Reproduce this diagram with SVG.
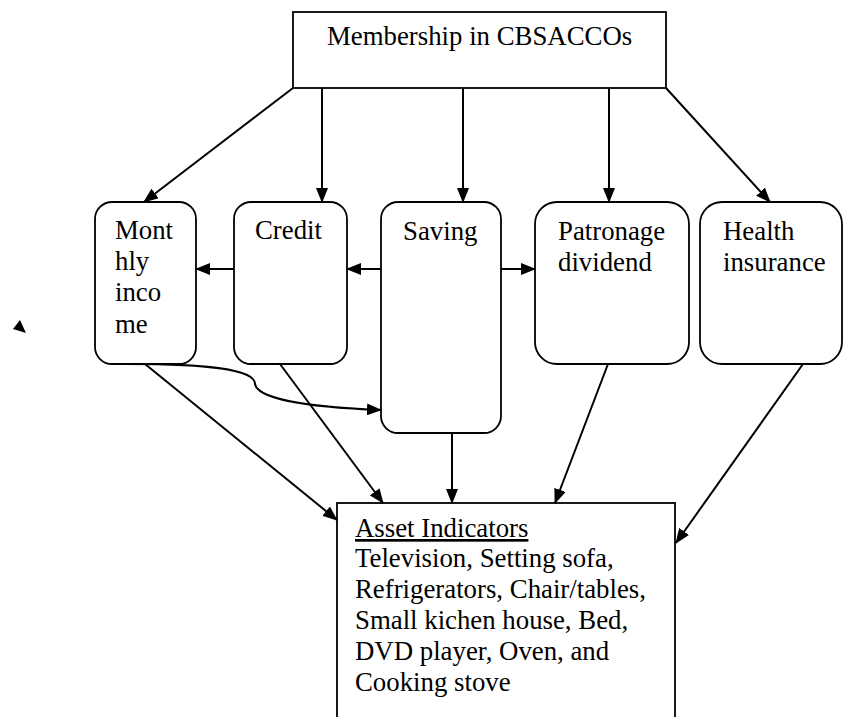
<svg xmlns="http://www.w3.org/2000/svg" width="843" height="717" viewBox="0 0 843 717">
<style>
.box{fill:#fff;stroke:#000;stroke-width:1.8}
.t{font-family:"Liberation Serif","Times New Roman",serif;font-size:26.8px;fill:#000}
.c{fill:none;stroke:#000;stroke-width:2}
</style>
<defs>
<marker id="ah" markerUnits="userSpaceOnUse" markerWidth="15" markerHeight="12" refX="14" refY="6" orient="auto">
<path d="M0,0 L15,6 L0,12 Z" fill="#000"/>
</marker>
</defs>
<rect width="843" height="717" fill="#fff"/>
<g id="membership"><rect class="box" x="293" y="12" width="373" height="76"/><text class="t" x="327" y="45">Membership in CBSACCOs</text></g>
<g id="monthly"><rect class="box" x="95" y="202" width="101" height="162" rx="17"/><text class="t" x="115" y="239">Mont</text><text class="t" x="115" y="270">hly</text><text class="t" x="115" y="301">inco</text><text class="t" x="115" y="333">me</text></g>
<g id="credit"><rect class="box" x="234" y="202" width="113" height="162" rx="17"/><text class="t" x="255" y="239">Credit</text></g>
<g id="saving"><rect class="box" x="381" y="202" width="120" height="231" rx="17"/><text class="t" x="403" y="240">Saving</text></g>
<g id="patronage"><rect class="box" x="535" y="202" width="154" height="162" rx="22"/><text class="t" x="558" y="240">Patronage</text><text class="t" x="558" y="271">dividend</text></g>
<g id="health"><rect class="box" x="700" y="202" width="142" height="162" rx="22"/><text class="t" x="723" y="240">Health</text><text class="t" x="723" y="271">insurance</text></g>
<g id="assets"><rect class="box" x="337" y="503" width="338" height="230"/><text class="t" x="355" y="537" text-decoration="underline">Asset Indicators</text><text class="t" x="355" y="567">Television, Setting sofa,</text><text class="t" x="355" y="598">Refrigerators, Chair/tables,</text><text class="t" x="355" y="629">Small kichen house, Bed,</text><text class="t" x="355" y="660">DVD player, Oven, and</text><text class="t" x="355" y="691">Cooking stove</text></g>
<g id="connectors">
<path class="c" d="M293,88 L144,202" marker-end="url(#ah)"/>
<path class="c" d="M322,88 L322,202" marker-end="url(#ah)"/>
<path class="c" d="M463,88 L463,202" marker-end="url(#ah)"/>
<path class="c" d="M609,88 L609,202" marker-end="url(#ah)"/>
<path class="c" d="M666,88 L770,202" marker-end="url(#ah)"/>
<path class="c" d="M234,269 L196,269" marker-end="url(#ah)"/>
<path class="c" d="M381,269 L347,269" marker-end="url(#ah)"/>
<path class="c" d="M501,269 L535,269" marker-end="url(#ah)"/>
<path class="c" d="M128,364 C200,364 255,368 255,384 C258,402 330,408 381,410" marker-end="url(#ah)"/>
<path class="c" d="M145,364 L337,520" marker-end="url(#ah)"/>
<path class="c" d="M280,364 L383,503" marker-end="url(#ah)"/>
<path class="c" d="M452,433 L452,503" marker-end="url(#ah)"/>
<path class="c" d="M608,364 L555,503" marker-end="url(#ah)"/>
<path class="c" d="M803,364 L676,543" marker-end="url(#ah)"/>
<path d="M13,329 L26,333 L20,320 Z" fill="#000"/>
</g>
</svg>
